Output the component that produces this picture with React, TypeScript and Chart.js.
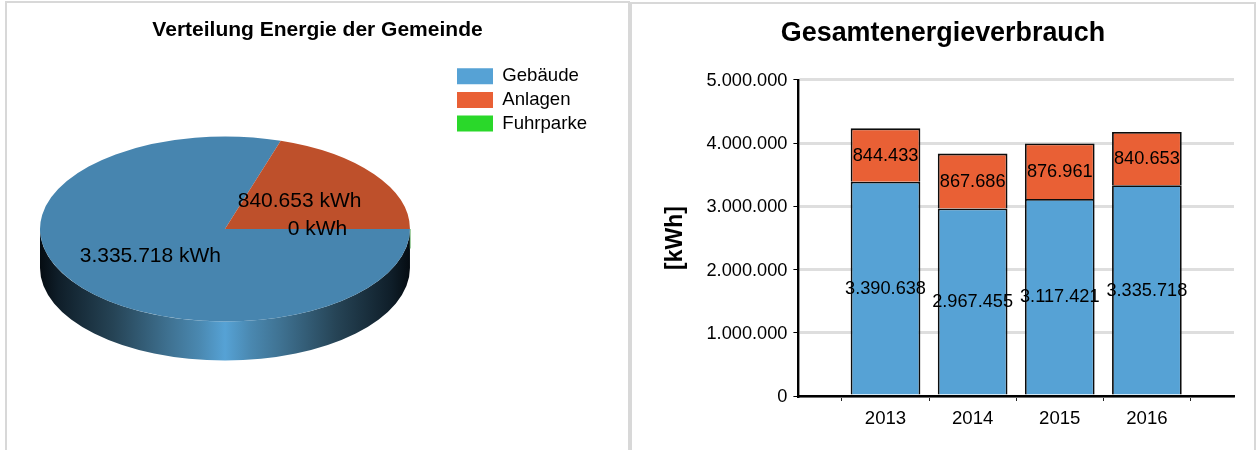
import React, { useEffect, useRef } from "react";
import { Chart, registerables } from "chart.js";

Chart.register(...registerables);

const pieLabels = ["Gebäude", "Anlagen", "Fuhrparke"];
const pieValues = [3335718, 840653, 0];
const legendColors = ["#56A2D5", "#E96035", "#2AD82A"];
const pieTopColors = ["#4785AF", "#BE502B", "#22B022"];

const years = ["2013", "2014", "2015", "2016"];
const gebaeude = [3390638, 2967455, 3117421, 3335718];
const anlagen = [844433, 867686, 876961, 840653];

const FONT = "'Liberation Sans', Arial, sans-serif";
const fmt = (v: number) => String(Math.round(v)).replace(/\B(?=(\d{3})+(?!\d))/g, ".");
const SQUASH = 0.5;
const DEPTH = 39;

const pie3d = {
  id: "pie3d",
  afterLayout(chart: any) {
    const lg = chart.legend;
    const w = lg.width;
    const h = lg.height;
    lg.left = 452;
    lg.right = 452 + w;
    lg.top = 62;
    lg.bottom = 62 + h;
    const tb = chart.titleBlock;
    const half = (tb.right - tb.left) / 2;
    tb.left = 317.5 - half;
    tb.right = 317.5 + half;
  },
  beforeDatasetsDraw(chart: any) {
    const ctx = chart.ctx;
    const meta = chart.getDatasetMeta(0);
    const a = meta.data[0];
    const { x, y, outerRadius: r } = a;
    const ry = r * SQUASH;
    const g = ctx.createLinearGradient(x - r, 0, x + r, 0);
    const stops: [number, string][] = [
      [0, "#050C12"],
      [0.05, "#0F1E29"],
      [0.2, "#264456"],
      [0.35, "#3F7292"],
      [0.43, "#4A88B0"],
      [0.5, "#56A2D5"],
    ];
    stops.forEach(([p, c]) => g.addColorStop(p, c));
    [...stops].reverse().forEach(([p, c]) => g.addColorStop(1 - p, c));
    ctx.save();
    ctx.beginPath();
    ctx.ellipse(x, y + DEPTH, r, ry, 0, 0, Math.PI);
    ctx.lineTo(x - r, y);
    ctx.ellipse(x, y, r, ry, 0, Math.PI, 0, true);
    ctx.closePath();
    ctx.fillStyle = g;
    ctx.fill();
    // the zero-value slice only shows as a hairline on the wall's right edge
    const zero = meta.data[2];
    ctx.beginPath();
    ctx.moveTo(zero.x + zero.outerRadius + 0.3, zero.y);
    ctx.lineTo(zero.x + zero.outerRadius + 0.3, zero.y + DEPTH * 0.5);
    ctx.strokeStyle = "rgba(90,170,90,0.75)";
    ctx.lineWidth = 1;
    ctx.stroke();
    ctx.restore();
    ctx.save();
    ctx.translate(x, y);
    ctx.scale(1, SQUASH);
    ctx.translate(-x, -y);
  },
  afterDatasetsDraw(chart: any) {
    const ctx = chart.ctx;
    ctx.restore();
    const data = chart.data.datasets[0].data;
    const meta = chart.getDatasetMeta(0);
    ctx.save();
    ctx.font = `21px ${FONT}`;
    ctx.fillStyle = "#000";
    ctx.textAlign = "center";
    ctx.textBaseline = "middle";
    meta.data.forEach((arc: any, i: number) => {
      const c = arc.getCenterPoint();
      ctx.fillText(`${fmt(data[i])} kWh`, c.x, arc.y + (c.y - arc.y) * SQUASH);
    });
    ctx.restore();
  },
};

const barLabels = {
  id: "barLabels",
  afterDatasetsDraw(chart: any) {
    const ctx = chart.ctx;
    ctx.save();
    ctx.font = `18.2px ${FONT}`;
    ctx.fillStyle = "#000";
    ctx.textAlign = "center";
    ctx.textBaseline = "middle";
    chart.data.datasets.forEach((ds: any, d: number) => {
      chart.getDatasetMeta(d).data.forEach((bar: any, i: number) => {
        const v = ds.data[i];
        if (v == null) return;
        ctx.fillText(fmt(v), bar.x, (bar.y + bar.base) / 2 + 0.7);
      });
    });
    ctx.restore();
  },
};

export default function App() {
  const pieRef = useRef<HTMLCanvasElement>(null);
  const barRef = useRef<HTMLCanvasElement>(null);

  useEffect(() => {
    const pie = new Chart(pieRef.current!, {
      type: "pie",
      plugins: [pie3d],
      data: {
        labels: pieLabels,
        datasets: [
          {
            data: pieValues,
            backgroundColor: pieTopColors,
            borderWidth: 0,
            clip: false,
          } as any,
        ],
      },
      options: {
        animation: false,
        responsive: false,
        rotation: 90,
        layout: { padding: { left: 40, right: 80, top: 0, bottom: 36 } },
        plugins: {
          tooltip: { enabled: false },
          title: {
            display: true,
            text: "Verteilung Energie der Gemeinde",
            color: "#000",
            font: { family: FONT, size: 21, weight: "bold" },
            padding: { top: 17.5, bottom: 1.3 },
          },
          legend: {
            position: "right",
            align: "start",
            labels: {
              boxWidth: 36,
              boxHeight: 16,
              padding: 5,
              color: "#000",
              font: { family: FONT, size: 18.6 },
              generateLabels: () =>
                pieLabels.map((text, i) => ({
                  text,
                  fillStyle: legendColors[i],
                  strokeStyle: legendColors[i],
                  lineWidth: 0,
                  index: i,
                })),
            },
          },
        },
      } as any,
    });

    const bar = new Chart(barRef.current!, {
      type: "bar",
      plugins: [barLabels],
      data: {
        labels: ["", ...years, ""],
        datasets: [
          {
            label: "Gebäude",
            data: [null, ...gebaeude, null],
            backgroundColor: legendColors[0],
            borderColor: "#0C0C0C",
            borderWidth: 1.8,
            categoryPercentage: 1,
            barPercentage: 0.8,
          },
          {
            label: "Anlagen",
            data: [null, ...anlagen, null],
            backgroundColor: legendColors[1],
            borderColor: "#0C0C0C",
            borderWidth: 1.8,
            categoryPercentage: 1,
            barPercentage: 0.8,
          },
        ] as any,
      },
      options: {
        animation: false,
        responsive: false,
        layout: { padding: { left: 22, right: 23, top: 0, bottom: 0 } },
        scales: {
          x: {
            stacked: true,
            offset: false,
            grid: {
              display: true,
              drawOnChartArea: false,
              drawTicks: true,
              tickLength: 5,
              tickColor: "#222",
              tickWidth: 1,
            },
            border: { color: "#000", width: 2.4 },
            ticks: {
              color: "#000",
              font: { family: FONT, size: 18.6 },
              padding: 7,
              maxRotation: 0,
              autoSkip: false,
            },
            afterFit(s: any) {
              s.height = 54;
            },
          },
          y: {
            stacked: true,
            min: 0,
            max: 5000000,
            grid: {
              color: "#DEDEDE",
              lineWidth: 3,
              drawTicks: true,
              tickLength: 5,
              tickColor: "#000",
              tickWidth: 1,
            },
            border: { color: "#000", width: 2.4 },
            title: {
              display: true,
              text: "[kWh]",
              color: "#000",
              font: { family: FONT, size: 23, weight: "bold" },
              padding: { top: 10, bottom: 0 },
            },
            ticks: {
              color: "#000",
              font: { family: FONT, size: 18.2 },
              stepSize: 1000000,
              padding: 6,
              labelOffset: 1,
              callback: (v: any) => fmt(Number(v)),
            },
            afterFit(s: any) {
              s.width = 146.4;
            },
          },
        },
        plugins: {
          legend: { display: false },
          tooltip: { enabled: false },
          title: {
            display: true,
            text: "Gesamtenergieverbrauch",
            color: "#000",
            font: { family: FONT, size: 26.9, weight: "bold" },
            padding: { top: 17.5, bottom: 30.2 },
          },
        },
      } as any,
    });

    return () => {
      pie.destroy();
      bar.destroy();
    };
  }, []);

  const panel = (left: number, top: number, right: number): React.CSSProperties => ({
    position: "absolute",
    boxSizing: "border-box",
    left,
    top,
    width: right - left,
    height: 480,
    border: "2.4px solid #D8D8D8",
    background: "#fff",
  });

  return (
    <div style={{ position: "fixed", inset: 0, width: 1257, height: 450, overflow: "hidden", background: "#fff" }}>
      <div style={panel(5, 1, 630)} />
      <div style={panel(630, 2, 1256)} />
      <canvas ref={pieRef} width={635} height={450} style={{ position: "absolute", left: 0, top: 0, width: 635, height: 450 }} />
      <canvas ref={barRef} width={627} height={450} style={{ position: "absolute", left: 630, top: 0, width: 627, height: 450 }} />
    </div>
  );
}
